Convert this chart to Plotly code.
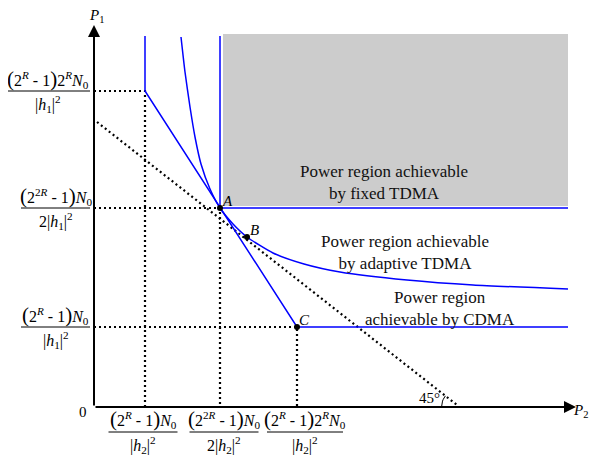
import plotly.graph_objects as go
import math

# ---- schematic data (axis origin = 0,0) ----
x_ticks = [51, 126, 203]          # P2 levels: (2^R-1)N0/|h2|^2, (2^2R-1)N0/2|h2|^2, (2^R-1)2^R N0/|h2|^2
y_ticks = [80, 199, 316]          # P1 levels: (2^R-1)N0/|h1|^2, (2^2R-1)N0/2|h1|^2, (2^R-1)2^R N0/|h1|^2
x_max = 474
y_top = 371

# adaptive TDMA boundary
adapt_x = [87, 91, 96, 101, 107, 116, 126, 139, 153, 179, 210, 246, 313, 379, 474]
adapt_y = [370, 335, 300, 270, 243, 218, 199, 183, 170, 154, 143, 135, 127, 122, 118]

# tangent (45 degree) line through B
tan_x = [3, 363]
tan_y = [285, 2]

pts_x = [126, 153, 203]
pts_y = [199, 170, 80]
pts_lbl = ["A", "B", "C"]

region_text = ["Power region achievable<br>by fixed TDMA",
               "Power region achievable<br>by adaptive TDMA",
               "Power region<br>achievable by CDMA"]
region_pos = [(290, 225), (311, 155), (346, 99)]

BP = "<span style='font-size:21px'>(</span>"
BQ = "<span style='font-size:21px'>)</span>"
num_a = BP + "2<sup><i>R</i></sup> - 1" + BQ + "<i>N</i><sub>0</sub>"
num_b = BP + "2<sup>2<i>R</i></sup> - 1" + BQ + "<i>N</i><sub>0</sub>"
num_c = BP + "2<sup><i>R</i></sup> - 1" + BQ + "2<sup><i>R</i></sup><i>N</i><sub>0</sub>"
y_num = [num_a, num_b, num_c]
y_den = ["|<i>h</i><sub>1</sub>|<sup>2</sup>", "2|<i>h</i><sub>1</sub>|<sup>2</sup>", "|<i>h</i><sub>1</sub>|<sup>2</sup>"]
x_num = [num_a, num_b, num_c]
x_den = ["|<i>h</i><sub>2</sub>|<sup>2</sup>", "2|<i>h</i><sub>2</sub>|<sup>2</sup>", "|<i>h</i><sub>2</sub>|<sup>2</sup>"]

FONT = "Liberation Serif"
BLUE = "#0000ff"

fig = go.Figure()

# gray fixed TDMA region
fig.add_shape(type="rect", x0=x_ticks[1] + 3, x1=x_max, y0=y_ticks[1] + 2, y1=y_top + 2,
              fillcolor="#cccccc", line=dict(width=0), layer="below")

dot = dict(color="black", width=2.2, dash="2px,3px")
# dotted guides
for xt, yt in [(x_ticks[0], y_ticks[2]), (x_ticks[1], y_ticks[1]), (x_ticks[2], y_ticks[0])]:
    fig.add_trace(go.Scatter(x=[0, xt, xt], y=[yt, yt, 0], mode="lines", line=dot, hoverinfo="skip"))
fig.add_trace(go.Scatter(x=tan_x, y=tan_y, mode="lines", line=dot, hoverinfo="skip"))

# blue boundaries
fig.add_trace(go.Scatter(x=[x_ticks[1], x_ticks[1], x_max], y=[y_top, y_ticks[1], y_ticks[1]],
                         mode="lines", line=dict(color=BLUE, width=1.5)))
fig.add_trace(go.Scatter(x=[x_ticks[0], x_ticks[0], x_ticks[2], x_max],
                         y=[y_top, y_ticks[2], y_ticks[0], y_ticks[0]],
                         mode="lines", line=dict(color=BLUE, width=1.5)))
fig.add_trace(go.Scatter(x=adapt_x, y=adapt_y, mode="lines",
                         line=dict(color=BLUE, width=1.5, shape="spline", smoothing=0.6)))

# points
fig.add_trace(go.Scatter(x=pts_x, y=pts_y, mode="markers", marker=dict(color="black", size=6)))
for px, py, lb in zip(pts_x, pts_y, pts_lbl):
    fig.add_annotation(x=px + 7, y=py + 7, text="<i>%s</i>" % lb, showarrow=False,
                       font=dict(family=FONT, size=15, color="black"))

# region texts
for t, (cx, cy) in zip(region_text, region_pos):
    fig.add_annotation(x=cx, y=cy, text=t, showarrow=False,
                       font=dict(family=FONT, size=17, color="#111111"))

# axes with arrows
fig.add_annotation(x=0, y=382, ax=0, ay=0, axref="x", ayref="y", xref="x", yref="y", text="",
                   showarrow=True, arrowhead=2, arrowsize=1.2, arrowwidth=2, arrowcolor="black")
fig.add_annotation(x=482, y=0, ax=0, ay=0, axref="x", ayref="y", xref="x", yref="y", text="",
                   showarrow=True, arrowhead=2, arrowsize=1.2, arrowwidth=2, arrowcolor="black")
fig.add_annotation(x=2, y=391, text="<i>P</i><sub>1</sub>", showarrow=False,
                   font=dict(family=FONT, size=15, color="black"))
fig.add_annotation(x=496, y=-4, xanchor="right", text="<i>P</i><sub>2</sub>", showarrow=False,
                   font=dict(family=FONT, size=15, color="black"))
fig.add_annotation(x=-11, y=-5, text="0", showarrow=False,
                   font=dict(family=FONT, size=15, color="black"))

# 45 degree mark
x_int = tan_x[0] + tan_y[0] * (tan_x[1] - tan_x[0]) / (tan_y[0] - tan_y[1])
ang = math.atan((tan_y[0] - tan_y[1]) / (tan_x[1] - tan_x[0]))
r = 18
arc_pts = [(x_int - r * math.cos(a * ang / 6), r * math.sin(a * ang / 6)) for a in range(7)]
fig.add_trace(go.Scatter(x=[p[0] for p in arc_pts], y=[p[1] for p in arc_pts], mode="lines",
                         line=dict(color="black", width=1)))
fig.add_annotation(x=x_int - r - 12, y=9, text="45°", showarrow=False,
                   font=dict(family=FONT, size=15, color="black"))

# y tick fraction labels
y_w = [69, 69, 84]
for yt, nm, dn, w in zip(y_ticks, y_num, y_den, y_w):
    cx = -4 - w / 2
    fig.add_shape(type="line", x0=-4 - w, x1=-4, y0=yt, y1=yt, line=dict(color="black", width=1))
    fig.add_annotation(x=cx, y=yt + 12, text=nm, showarrow=False,
                       font=dict(family=FONT, size=16, color="black"))
    fig.add_annotation(x=cx, y=yt - 13, text=dn, showarrow=False,
                       font=dict(family=FONT, size=16, color="black"))

# x tick fraction labels
x_c = [x_ticks[0] - 2, x_ticks[1] + 4, x_ticks[2] + 8]
x_w = [69, 69, 76]
for cx, nm, dn, w in zip(x_c, x_num, x_den, x_w):
    fig.add_shape(type="line", x0=cx - w / 2, x1=cx + w / 2, y0=-25, y1=-25,
                  line=dict(color="black", width=1))
    fig.add_annotation(x=cx, y=-12, text=nm, showarrow=False,
                       font=dict(family=FONT, size=16, color="black"))
    fig.add_annotation(x=cx, y=-38, text=dn, showarrow=False,
                       font=dict(family=FONT, size=16, color="black"))

# page has an 8px body margin: figure is 591x451 and the view is shifted accordingly
fig.update_layout(width=591, height=451, autosize=False,
                  margin=dict(l=0, r=0, t=0, b=0),
                  paper_bgcolor="white", plot_bgcolor="white", showlegend=False,
                  xaxis=dict(range=[-86, 505], visible=False, fixedrange=True),
                  yaxis=dict(range=[-52, 399], visible=False, fixedrange=True))
fig.write_html("out.html")
